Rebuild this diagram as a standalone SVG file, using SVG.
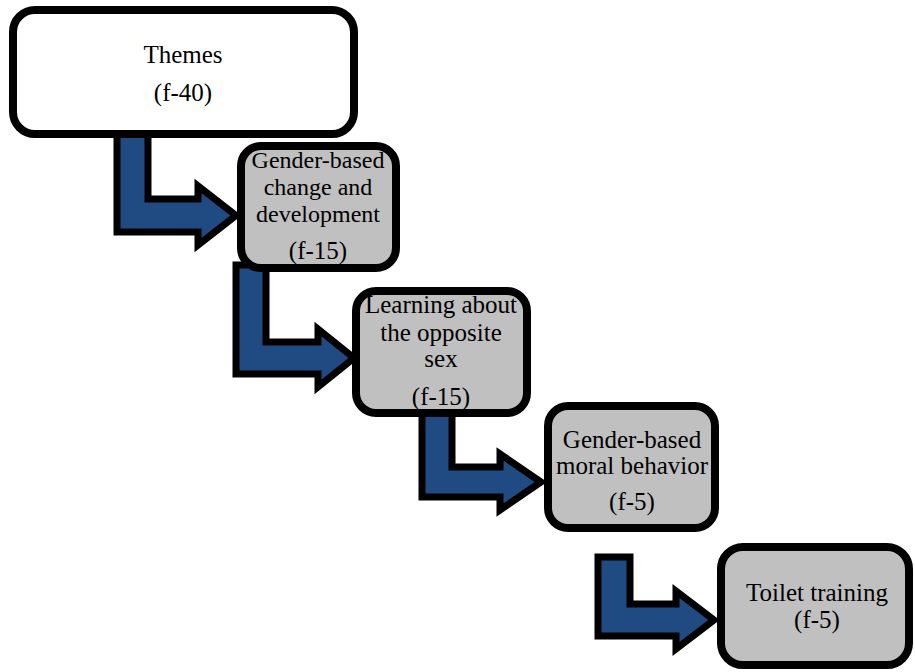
<svg xmlns="http://www.w3.org/2000/svg" width="915" height="672" viewBox="0 0 915 672">
<style>
.box{stroke:#000;stroke-width:8;}
.white{fill:#fff;}
.gray{fill:#c0c0c0;}
.arrow{fill:#1f4a82;stroke:#000;stroke-width:7;stroke-linejoin:miter;}
text{font-family:"Liberation Serif","Times New Roman",serif;font-size:25px;fill:#000;text-anchor:middle;}
.sm{font-size:24px;}
</style>
<rect width="915" height="672" fill="#fff"/>
<g id="connectors">
<polygon class="arrow" points="117,130 148,130 148,199 198,199 198,186 236,215.5 198,245 198,232 117,232"/>
<polygon class="arrow" points="236,265 266,265 266,342 318,342 318,329 354,358 318,387 318,374 236,374"/>
<polygon class="arrow" points="422,405 452,405 452,467 500,467 500,454 541,482 500,510 500,497 422,497"/>
<polygon class="arrow" points="598,557 630,557 630,604 676,604 676,591 714,620 676,649 676,636 598,636"/>
</g>
<g id="node-themes">
<rect class="box white" x="13" y="10" width="341" height="124" rx="22"/>
<text x="183" y="63">Themes</text>
<text x="183" y="101">(f-40)</text>
</g>
<g id="node-gender-change">
<rect class="box gray" x="241" y="146" width="155" height="122" rx="20"/>
<text class="sm" x="318" y="168">Gender-based</text>
<text class="sm" x="318" y="195">change and</text>
<text class="sm" x="318" y="222">development</text>
<text x="318" y="259">(f-15)</text>
</g>
<g id="node-learning">
<rect class="box gray" x="356" y="291" width="171" height="122" rx="20"/>
<text x="441" y="313">Learning about</text>
<text x="441" y="341">the opposite</text>
<text x="441" y="367">sex</text>
<text x="441" y="405">(f-15)</text>
</g>
<g id="node-moral">
<rect class="box gray" x="548" y="406" width="167" height="122" rx="20"/>
<text x="632" y="448">Gender-based</text>
<text x="632" y="474">moral behavior</text>
<text x="632" y="510">(f-5)</text>
</g>
<g id="node-toilet">
<rect class="box gray" x="721" y="547" width="188" height="118" rx="22"/>
<text x="817" y="601">Toilet training</text>
<text x="817" y="628">(f-5)</text>
</g>
</svg>
